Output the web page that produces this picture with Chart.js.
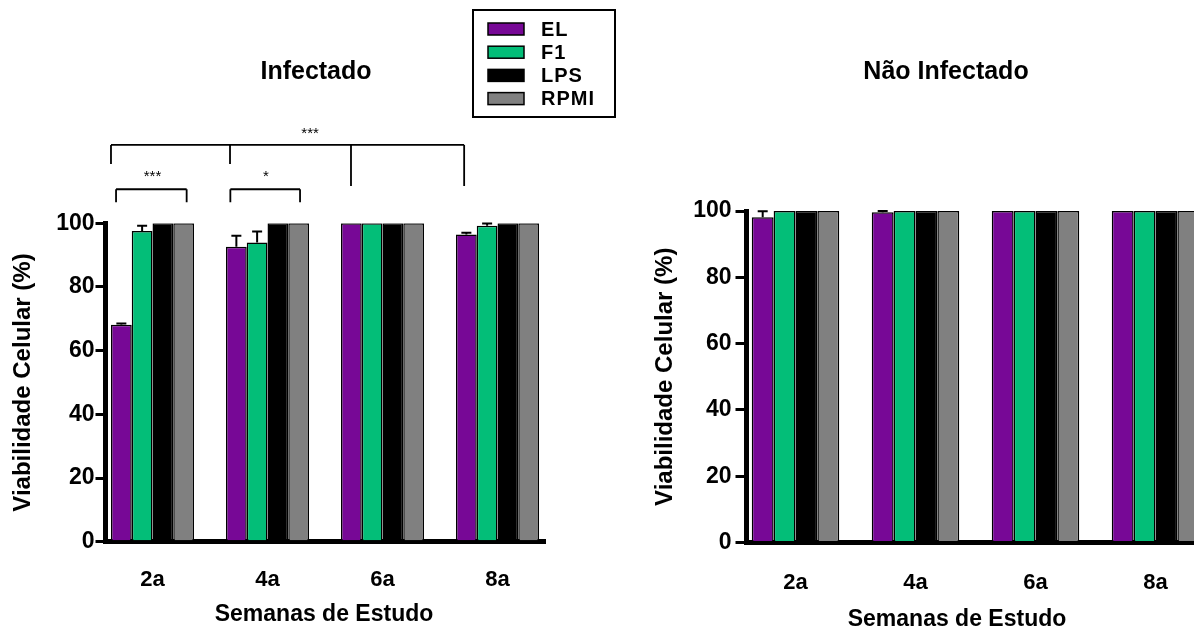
<!DOCTYPE html>
<html lang="pt">
<head>
<meta charset="utf-8">
<title>Viabilidade celular</title>
<script src="https://cdn.jsdelivr.net/npm/chart.js@4.4.1/dist/chart.umd.min.js"></script>
<style>
  html, body { margin: 0; padding: 0; background: #fff; overflow: hidden; }
  body { width: 1194px; height: 630px; position: relative; }
  canvas { position: absolute; top: 0; }
  #graficoInfectado { left: 0; }
  #graficoNaoInfectado { left: 620px; }
</style>
</head>
<body>
<canvas id="graficoInfectado" width="620" height="630"></canvas>
<canvas id="graficoNaoInfectado" width="610" height="630"></canvas>
<script>
const semanas = ["2a", "4a", "6a", "8a"];
const grupos = ["EL", "F1", "LPS", "RPMI"];
const coresGrupos = ["#770896", "#03be78", "#000000", "#808080"];
const ticksY = [0, 20, 40, 60, 80, 100];

// Infectado
const infectadoEL = [68.1, 92.6, 100, 96.5];
const infectadoF1 = [97.6, 94.0, 100, 99.2];
const infectadoLPS = [100, 100, 100, 100];
const infectadoRPMI = [100, 100, 100, 100];
const erroInfectadoEL = [0.4, 3.5, 0, 0.5];
const erroInfectadoF1 = [1.6, 3.4, 0, 0.7];
const erroInfectadoLPS = [0, 0, 0, 0];
const erroInfectadoRPMI = [0, 0, 0, 0];

// Não infectado
const naoInfectadoEL = [98.1, 99.6, 100, 100];
const naoInfectadoF1 = [100, 100, 100, 100];
const naoInfectadoLPS = [100, 100, 100, 100];
const naoInfectadoRPMI = [100, 100, 100, 100];
const erroNaoInfectadoEL = [1.8, 0.4, 0, 0];
const erroNaoInfectadoF1 = [0, 0, 0, 0];
const erroNaoInfectadoLPS = [0, 0, 0, 0];
const erroNaoInfectadoRPMI = [0, 0, 0, 0];

// significancia (posicao x em semanas, y em %)
const colchetesInfectado = [
  { y: 110.7, pernas: [[-0.317, 106.6], [0.297, 106.6]], texto: "***", tx: 0, ty: 115.8 },
  { y: 110.7, pernas: [[0.677, 106.6], [1.283, 106.6]], texto: "*", tx: 0.987, ty: 115.8 },
  { y: 124.6, pernas: [[-0.361, 118.6], [0.674, 118.6], [1.726, 111.7], [2.71, 111.7]], texto: "***", tx: 1.37, ty: 129.3 }
];

const FONTE = "'Liberation Sans', Arial, sans-serif";
Chart.defaults.font.family = FONTE;
Chart.defaults.color = "#000";

// ======================
// DESENHOS EXTRAS
// ======================

const pluginDesenhos = {
  id: "desenhos",
  afterDatasetsDraw(chart) {
    const ctx = chart.ctx;
    const y = chart.scales.y;
    ctx.save();
    ctx.strokeStyle = "#000";
    ctx.lineWidth = 2;
    chart.data.datasets.forEach((ds, k) => {
      const meta = chart.getDatasetMeta(k);
      meta.data.forEach((bar, i) => {
        const e = ds.erros[i];
        if (!e) return;
        const topo = y.getPixelForValue(ds.data[i].y + e);
        ctx.beginPath();
        ctx.moveTo(bar.x, bar.y);
        ctx.lineTo(bar.x, topo);
        ctx.moveTo(bar.x - 5, topo);
        ctx.lineTo(bar.x + 5, topo);
        ctx.stroke();
      });
    });
    ctx.restore();
  },
  afterDraw(chart, args, op) {
    const ctx = chart.ctx;
    const x = chart.scales.x;
    const y = chart.scales.y;
    ctx.save();
    ctx.fillStyle = "#000";
    ctx.strokeStyle = "#000";
    ctx.textAlign = "center";
    ctx.textBaseline = "middle";

    ctx.font = "bold 25px " + FONTE;
    ctx.fillText(op.titulo, op.posTitulo[0], op.posTitulo[1]);
    ctx.font = "bold 23px " + FONTE;
    ctx.fillText("Semanas de Estudo", op.posTituloX[0], op.posTituloX[1]);

    // colchetes de significancia
    ctx.lineWidth = 1.8;
    ctx.font = "15px " + FONTE;
    ctx.textBaseline = "alphabetic";
    (op.colchetes || []).forEach(c => {
      const yH = y.getPixelForValue(c.y);
      const xs = c.pernas.map(p => x.getPixelForValue(p[0]));
      ctx.beginPath();
      ctx.moveTo(Math.min(...xs), yH);
      ctx.lineTo(Math.max(...xs), yH);
      c.pernas.forEach((p, j) => {
        ctx.moveTo(xs[j], yH);
        ctx.lineTo(xs[j], y.getPixelForValue(p[1]));
      });
      ctx.stroke();
      ctx.fillText(c.texto, x.getPixelForValue(c.tx), y.getPixelForValue(c.ty) + 8);
    });

    // legenda
    if (op.legenda) {
      const L = op.legenda;
      ctx.lineWidth = 2;
      ctx.strokeRect(L.x, L.y, L.w, L.h);
      ctx.textAlign = "left";
      ctx.textBaseline = "middle";
      ctx.font = "bold 20px " + FONTE;
      ctx.letterSpacing = "1px";
      chart.data.datasets.forEach((ds, k) => {
        const cy = L.y + 19 + k * 23.2;
        ctx.fillStyle = ds.backgroundColor;
        ctx.fillRect(L.x + 15, cy - 6, 36, 12);
        ctx.lineWidth = 1.5;
        ctx.strokeRect(L.x + 15, cy - 6, 36, 12);
        ctx.fillStyle = "#000";
        ctx.fillText(ds.label, L.x + 68, cy + 1);
      });
    }
    ctx.restore();
  }
};

// ======================
// GRAFICO
// ======================

function criarGrafico(id, cfg) {
  const canvas = document.getElementById(id);
  return new Chart(canvas, {
    type: "bar",
    data: {
      datasets: grupos.map((g, k) => ({
        label: g,
        data: cfg.valores[k].map((v, i) => ({ x: i, y: v })),
        erros: cfg.erros[k],
        backgroundColor: coresGrupos[k],
        borderColor: "#000",
        borderWidth: 1.5,
        categoryPercentage: cfg.largura,
        barPercentage: 1
      }))
    },
    options: {
      responsive: false,
      animation: false,
      devicePixelRatio: 1,
      layout: { padding: { top: cfg.topo, right: cfg.direita, bottom: 0, left: 0 } },
      plugins: {
        legend: { display: false },
        tooltip: { enabled: false },
        desenhos: cfg.desenhos
      },
      scales: {
        x: {
          type: "linear",
          offset: false,
          min: cfg.xMin,
          max: cfg.xMax,
          grid: { display: false, offset: false },
          border: { display: true, color: "#000", width: 5 },
          ticks: {
            padding: cfg.padTickX,
            color: "#000",
            font: { size: 22, weight: "bold" },
            callback: v => semanas[v] ?? ""
          },
          afterBuildTicks: s => { s.ticks = semanas.map((_, i) => ({ value: i })); },
          afterFit: s => { s.height = cfg.alturaX; }
        },
        y: {
          min: 0,
          max: 100,
          grid: { drawOnChartArea: false, drawTicks: true, tickLength: cfg.tickLen, lineWidth: 3, color: "#000" },
          border: { color: "#000", width: 5 },
          ticks: { padding: cfg.padTick, color: "#000", font: { size: 23, weight: "bold" } },
          afterBuildTicks: s => { s.ticks = ticksY.map(v => ({ value: v })); },
          title: {
            display: true,
            text: "Viabilidade Celular (%)",
            color: "#000",
            font: { size: 24, weight: "bold" },
            padding: { top: cfg.padTitulo, bottom: 0 }
          },
          afterFit: s => { s.width = cfg.larguraY; }
        }
      }
    },
    plugins: [pluginDesenhos]
  });
}

criarGrafico("graficoInfectado", {
  valores: [infectadoEL, infectadoF1, infectadoLPS, infectadoRPMI],
  erros: [erroInfectadoEL, erroInfectadoF1, erroInfectadoLPS, erroInfectadoRPMI],
  largura: 0.722,
  xMin: -0.4087,
  xMax: 3.413,
  topo: 223.3,
  direita: 75,
  alturaX: 88.3,
  larguraY: 105.5,
  tickLen: 10,
  padTick: 1,
  padTickX: 17,
  padTitulo: 8.6,
  desenhos: {
    titulo: "Infectado",
    posTitulo: [316, 72],
    posTituloX: [324, 615],
    colchetes: colchetesInfectado,
    legenda: { x: 473, y: 10, w: 142, h: 107 }
  }
});

criarGrafico("graficoNaoInfectado", {
  valores: [naoInfectadoEL, naoInfectadoF1, naoInfectadoLPS, naoInfectadoRPMI],
  erros: [erroNaoInfectadoEL, erroNaoInfectadoF1, erroNaoInfectadoLPS, erroNaoInfectadoRPMI],
  largura: 0.729,
  xMin: -0.4083,
  xMax: 3.5375,
  topo: 211,
  direita: 10,
  alturaX: 87.5,
  larguraY: 126.5,
  tickLen: 11,
  padTick: 4,
  padTickX: 19.5,
  padTitulo: 30.6,
  desenhos: {
    titulo: "Não Infectado",
    posTitulo: [326, 72],
    posTituloX: [337, 620],
    colchetes: [],
    legenda: null
  }
});
</script>
</body>
</html>
